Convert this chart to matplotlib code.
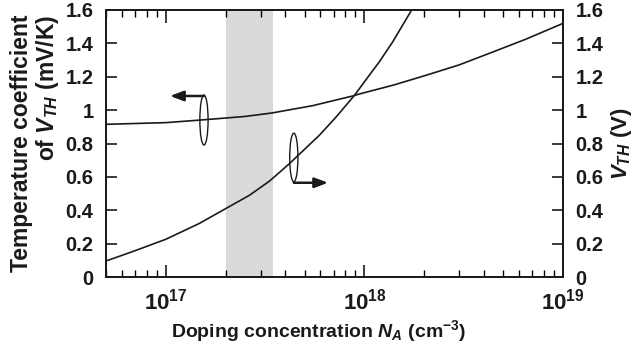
import matplotlib
matplotlib.use("Agg")
import matplotlib.pyplot as plt
from matplotlib.patches import Ellipse
from matplotlib.ticker import LogLocator, NullFormatter
import numpy as np

plt.rcParams['font.family'] = ['Liberation Sans', 'DejaVu Sans']
plt.rcParams['font.weight'] = 'bold'
plt.rcParams['mathtext.fontset'] = 'custom'
plt.rcParams['mathtext.rm'] = 'Liberation Sans:bold'
plt.rcParams['mathtext.bf'] = 'Liberation Sans:bold'
plt.rcParams['mathtext.it'] = 'Liberation Sans:bold:italic'

# Temperature coefficient of V_TH (mV/K), left axis
tc_na = [5e16, 1e17, 1.59e17, 2.5e17, 3.43e17, 5.5e17, 8.75e17, 9.46e17, 1.4e18,
         2.06e18, 3e18, 4.47e18, 6.5e18, 1e19]
tc_val = [0.915, 0.925, 0.943, 0.962, 0.983, 1.027, 1.085, 1.097, 1.15,
          1.21, 1.271, 1.35, 1.425, 1.52]

# V_TH (V), right axis
vth_na = [5e16, 6.8e16, 1e17, 1.47e17, 1.97e17, 2.64e17, 3.33e17, 4.2e17,
          5.94e17, 7.22e17, 8.93e17, 1.06e18, 1.19e18, 1.39e18, 1.73e18, 1.8e18]
vth_val = [0.096, 0.152, 0.226, 0.32, 0.405, 0.49, 0.575, 0.68,
           0.85, 0.96, 1.09, 1.21, 1.29, 1.41, 1.60, 1.635]

band = (2e17, 3.45e17)
yticks = [0, 0.2, 0.4, 0.6, 0.8, 1, 1.2, 1.4, 1.6]
ytick_labels = ['0', '0.2', '0.4', '0.6', '0.8', '1', '1.2', '1.4', '1.6']
xticks = [1e17, 1e18, 1e19]
xtick_labels = [r'$\mathbf{10^{17}}$', r'$\mathbf{10^{18}}$', r'$\mathbf{10^{19}}$']

INK = '#1a1a1a'

fig = plt.figure(figsize=(6.4, 3.47), dpi=100)
ax = fig.add_axes([0.1656, 0.2017, 0.8797 - 0.1656, 0.9712 - 0.2017])
ax2 = ax.twinx()

ax.axvspan(band[0], band[1], color='#d9dadc', lw=0, zorder=0)
ax.plot(tc_na, tc_val, color=INK, lw=1.2)
ax2.plot(vth_na, vth_val, color=INK, lw=1.2)

for a in (ax, ax2):
    a.set_xscale('log')
    a.set_xlim(5e16, 1e19)
    a.set_ylim(0, 1.6)
    a.set_yticks(yticks)
    a.set_yticklabels(ytick_labels)
    for s in a.spines.values():
        s.set_linewidth(1.3)
        s.set_color(INK)

ax.set_xticks(xticks)
ax.set_xticklabels(xtick_labels)
ax.xaxis.set_minor_locator(LogLocator(base=10, subs=np.arange(2, 10), numticks=20))
ax.xaxis.set_minor_formatter(NullFormatter())
ax.tick_params(axis='x', which='major', direction='in', length=9, width=1.2,
               top=True, labelsize=16, pad=8, colors=INK)
ax.tick_params(axis='x', which='minor', direction='in', length=5, width=1.0, top=True)
ax.tick_params(axis='y', direction='in', length=8, width=1.2, labelsize=14.5, pad=9,
               colors=INK)
ax2.tick_params(axis='y', direction='in', length=8, width=1.2, labelsize=14.5, pad=9,
                colors=INK)
ax2.tick_params(axis='x', which='both', top=False, bottom=False)

ax.set_xlabel(r'Doping concentration $N_A$ (cm$^{-3}$)', fontsize=14,
              fontweight='bold', color=INK)
ax.xaxis.set_label_coords(0.465, -0.155)
ax.set_ylabel('Temperature coefficient\n' + r'of $V_{TH}$ (mV/K)', fontsize=16.5,
              fontweight='bold', labelpad=3, color=INK, linespacing=1.05,
              multialignment='right')
ax2.set_ylabel(r'$V_{TH}$ (V)', fontsize=16, fontweight='bold', labelpad=4,
               color=INK, rotation=90)

# curve markers (ellipses with arrows)
for (cx, cy, w, h) in [(0.2144, 0.588, 0.018, 0.187), (0.411, 0.4476, 0.018, 0.182)]:
    ax.add_patch(Ellipse((cx, cy), w, h, transform=ax.transAxes, fill=False,
                         ec=INK, lw=1.0, zorder=5))
arrow_style = dict(arrowstyle='-|>,head_length=0.8,head_width=0.3',
                   color=INK, lw=1.8, shrinkA=0, shrinkB=0)
ax.annotate('', xy=(0.140, 0.678), xytext=(0.2144, 0.678), xycoords='axes fraction',
            arrowprops=arrow_style)
ax.annotate('', xy=(0.486, 0.353), xytext=(0.411, 0.353), xycoords='axes fraction',
            arrowprops=arrow_style)

fig.savefig('out.png', dpi=100)
